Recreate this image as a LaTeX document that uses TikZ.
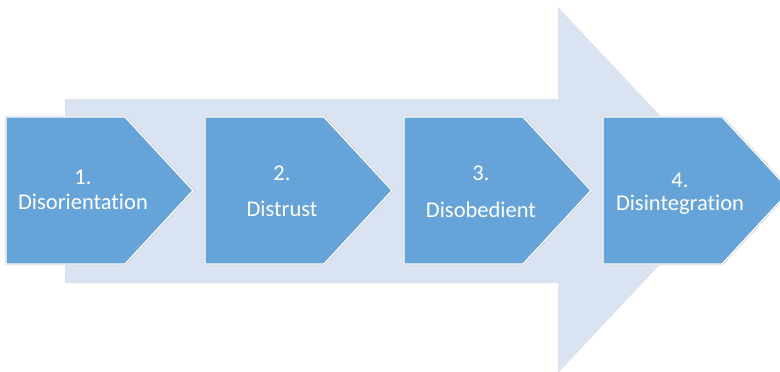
\documentclass[tikz,border=0pt]{standalone}
\usepackage{fontspec}
\setmainfont{Carlito}[Ligatures=NoCommon]
\definecolor{bigarrow}{RGB}{218,227,242}
\definecolor{chev}{RGB}{102,163,216}
\begin{document}
\begin{tikzpicture}[x=1pt,y=-1pt,
  chevshadow/.style={draw=black!22,line width=2.4pt,line join=miter},
  chevron/.style={fill=chev,draw=white,line width=1.2pt,line join=miter},
  lbl/.style={text=white,font=\fontsize{22.5}{26}\selectfont,inner sep=0pt,anchor=base}]
\useasboundingbox (0,0) rectangle (780,372);
\begin{scope}
\clip (0,0) rectangle (780,372);
% big background arrow
\fill[bigarrow] (65,99) -- (558,99) -- (558,7) -- (730,190) -- (558,373) -- (558,283) -- (65,283) -- cycle;
% chevrons
\foreach \L in {6,205,404,603}{
  \draw[chevshadow] (\L,117) -- (\L+119,117) -- (\L+187,190.5) -- (\L+119,264) -- (\L,264) -- cycle;
  \draw[chevron] (\L,117) -- (\L+119,117) -- (\L+187,190.5) -- (\L+119,264) -- (\L,264) -- cycle;
}
\end{scope}
% labels
\node[lbl] (n1) at (83,184) {1.};
\node[lbl] (t1) at (83,209) {Disorientation};
\node[lbl] (n2) at (282,180) {2.};
\node[lbl] (t2) at (282,216) {Distrust};
\node[lbl] (n3) at (481,180) {3.};
\node[lbl] (t3) at (481,217) {Disobedient};
\node[lbl] (n4) at (680,187) {4.};
\node[lbl] (t4) at (680,210) {Disintegration};
\end{tikzpicture}
\end{document}
